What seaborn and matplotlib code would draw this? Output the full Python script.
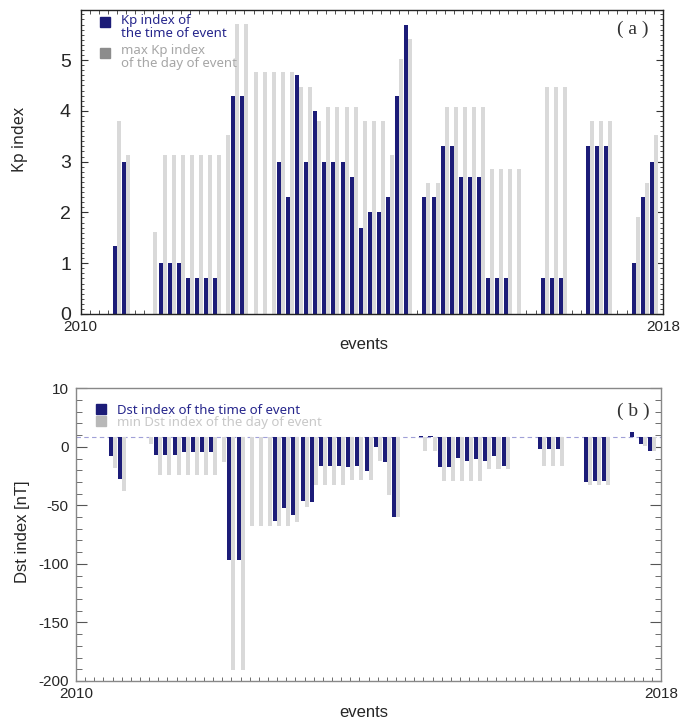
"""Kp and Dst index of the events, two stacked bar panels"""

import numpy as np
import pandas as pd
import seaborn as sns
import matplotlib.pyplot as plt
from matplotlib import font_manager
from matplotlib.ticker import MultipleLocator

# Event slots along the x axis (one slot per event bin)
slots = list(range(60))

# Kp index at the time of event / max Kp index of the day (None = no bar)
kp_event = [1.33, 3.0, None, None, None, 1.0, 1.0, 1.0, 0.7, 0.7,
            0.7, 0.7, None, 4.3, 4.3, None, None, None, 3.0, 2.3,
            4.7, 3.0, 4.0, 3.0, 3.0, 3.0, 2.7, 1.7, 2.0, 2.0,
            2.3, 4.3, 5.7, None, 2.3, 2.3, 3.3, 3.3, 2.7, 2.7,
            2.7, 0.7, 0.7, 0.7, None, None, None, 0.7, 0.7, 0.7,
            None, None, 3.3, 3.3, 3.3, None, None, 1.0, 2.3, 3.0]
kp_max = [3.8, 3.13, None, None, 1.62, 3.13, 3.13, 3.13, 3.13, 3.13,
          3.13, 3.13, 3.52, 5.71, 5.71, 4.76, 4.76, 4.76, 4.76, 4.76,
          4.47, 4.47, 3.8, 4.08, 4.08, 4.08, 4.08, 3.8, 3.8, 3.8,
          3.13, 5.03, 5.41, None, 2.57, 2.57, 4.08, 4.08, 4.08, 4.08,
          4.08, 2.85, 2.85, 2.85, 2.85, None, None, 4.47, 4.47, 4.47,
          None, None, 3.8, 3.8, 3.8, None, None, 1.9, 2.57, 3.52]

# Dst index at the time of event / min Dst index of the day
dst_event = [-8.0, -27.4, None, None, None, -6.6, -6.6, -6.6, -4.6, -4.6,
             -4.6, -4.6, None, -96.3, -96.3, None, None, None, -63.0, -52.5,
             -58.4, -46.5, -47.3, -16.0, -16.0, -16.0, -17.1, -16.0, -20.8, -0.3,
             -12.8, -59.8, None, None, 9.5, 9.5, -17.1, -17.1, -9.7, -11.7,
             -10.6, -11.7, -7.7, -16.0, None, None, None, -1.7, -1.7, -1.7,
             None, None, -30.2, -29.4, -29.4, None, None, 12.5, 2.8, -3.2]
dst_min = [-18.0, -38.0, None, None, 2.8, -23.7, -23.7, -23.7, -23.7, -23.7,
           -23.7, -23.7, -13.0, -190.3, -190.3, -67.8, -67.8, -67.8, -67.8, -67.8,
           -64.0, -51.3, -32.8, -32.8, -32.8, -32.8, -28.5, -28.5, -28.5, -12.5,
           -41.4, -59.8, None, None, -3.7, -3.7, -29.4, -29.4, -29.4, -29.4,
           -29.4, -19.1, -19.1, -19.1, None, None, None, -16.0, -16.0, -16.0,
           None, None, -32.2, -32.8, -32.8, None, None, None, 0.5, -3.2]
dst_base = 8.5  # bars hang from the dashed reference line

dst_ticks = [50, 0, -50, -100, -150, -200]
dst_ticklabels = ["10", "0", "-50", "-100", "-150", "-200"]

navy = "#1c1c78"
grey = "#d9d9d9"

sns.set_style("ticks")
plt.rcParams["font.family"] = ["Liberation Sans", "DejaVu Sans"]
names = {f.name for f in font_manager.fontManager.ttflist}
narrow = "Liberation Sans Narrow" if "Liberation Sans Narrow" in names else "Liberation Sans"


def long_table(a, b):
    df = pd.DataFrame({"slot": slots, "event": a, "day": b})
    df = df.melt(id_vars="slot", var_name="series", value_name="value")
    return df.dropna()


df_kp = long_table(kp_event, kp_max)
df_dst = long_table(dst_event, dst_min)
df_dst["height"] = df_dst["value"] - dst_base

fig = plt.figure(figsize=(6.95, 7.27), dpi=100)
ax1 = fig.add_axes([0.1161, 0.5681, 0.8378, 0.4181])
ax2 = fig.add_axes([0.1094, 0.0633, 0.8417, 0.4026])

# ---- (a) Kp index
sns.barplot(data=df_kp, x="slot", y="value", hue="series",
            hue_order=["event", "day"], palette={"event": navy, "day": grey},
            native_scale=True, width=0.88, errorbar=None, saturation=1,
            linewidth=0, legend=False, ax=ax1)
ax1.set_xlim(-4, 60)
ax1.set_ylim(0, 5.985)
ax1.set_axisbelow(True)
ax1.set_xticks([-4, 60], ["2010", "2018"])
ax1.xaxis.set_minor_locator(MultipleLocator(1))
ax1.tick_params(axis="x", which="major", length=0, pad=4, labelsize=11)
ax1.tick_params(axis="x", which="minor", direction="in", length=3,
                top=True, bottom=True, color="#333333")
ax1.set_yticks(range(6))
ax1.yaxis.set_minor_locator(MultipleLocator(0.1))
ax1.tick_params(axis="y", which="major", direction="in", length=5,
                left=True, right=True, pad=7, labelsize=14, color="#333333")
ax1.tick_params(axis="y", which="minor", direction="in", length=2.5,
                left=True, right=True, color="#333333")
for lab in ax1.get_yticklabels():
    lab.set_fontfamily(narrow)
for sp in ax1.spines.values():
    sp.set_color("#222222")
    sp.set_linewidth(1.0)
ax1.set_xlabel("events", fontsize=12)
ax1.xaxis.set_label_coords(0.4865, -0.076)
ax1.set_ylabel("Kp index", fontsize=11.5, family="Noto Sans")
ax1.yaxis.set_label_coords(-0.0905, 0.576)

ax1.plot([0.0417], [0.9605], marker="s", markersize=7.2, color=navy,
         transform=ax1.transAxes, clip_on=False, linestyle="none")
ax1.text(0.0692, 0.987, "Kp index of\nthe time of event", transform=ax1.transAxes,
         va="top", ha="left", color="#26268c", fontsize=9.5,
         family="Noto Sans", linespacing=1.0)
ax1.plot([0.0417], [0.8595], marker="s", markersize=7.2, color="#8c8c8c",
         transform=ax1.transAxes, clip_on=False, linestyle="none")
ax1.text(0.0692, 0.887, "max Kp index\nof the day of event", transform=ax1.transAxes,
         va="top", ha="left", color="#a6a6a6", fontsize=9.5,
         family="Noto Sans", linespacing=1.0)
ax1.text(0.9476, 0.9375, "( a )", transform=ax1.transAxes, ha="center",
         va="center", family="Liberation Serif", fontsize=14, color="#333333")

# ---- (b) Dst index
ax2.axhline(dst_base, color="#a0a0d8", linestyle=(0, (4, 3)), linewidth=0.8,
            zorder=0.8)
sns.barplot(data=df_dst, x="slot", y="height", hue="series",
            hue_order=["event", "day"], palette={"event": navy, "day": grey},
            native_scale=True, width=0.88, errorbar=None, saturation=1,
            linewidth=0, legend=False, bottom=dst_base, ax=ax2)
ax2.set_xlim(-4, 60)
ax2.set_ylim(-200, 50)
ax2.set_axisbelow(True)
ax2.set_xticks([-4, 60], ["2010", "2018"])
ax2.xaxis.set_minor_locator(MultipleLocator(1))
ax2.tick_params(axis="x", which="major", length=0, pad=4, labelsize=11)
ax2.tick_params(axis="x", which="minor", direction="in", length=3,
                bottom=True, top=False, color="#555555")
ax2.set_yticks(dst_ticks, dst_ticklabels)
ax2.yaxis.set_minor_locator(MultipleLocator(10))
ax2.tick_params(axis="y", which="major", direction="in", length=8,
                left=True, right=True, pad=5.5, labelsize=11, color="#555555")
ax2.tick_params(axis="y", which="minor", direction="in", length=4,
                left=True, right=True, color="#555555")
for sp in ax2.spines.values():
    sp.set_color("#888888")
    sp.set_linewidth(1.0)
ax2.set_xlabel("events", fontsize=12)
ax2.xaxis.set_label_coords(0.492, -0.082)
ax2.set_ylabel("Dst index [nT]", fontsize=12)
ax2.yaxis.set_label_coords(-0.0786, 0.509)

ax2.plot([0.0424], [0.9286], marker="s", markersize=7, color=navy,
         transform=ax2.transAxes, clip_on=False, linestyle="none")
ax2.text(0.0696, 0.9122, "Dst index of the time of event", transform=ax2.transAxes,
         va="baseline", ha="left", color="#26268c", fontsize=9.5, family="Noto Sans")
ax2.plot([0.0424], [0.889], marker="s", markersize=7, color="#b8b8b8",
         transform=ax2.transAxes, clip_on=False, linestyle="none")
ax2.text(0.0696, 0.8722, "min Dst index of the day of event", transform=ax2.transAxes,
         va="baseline", ha="left", color="#c8c8c8", fontsize=9.5, family="Noto Sans")
ax2.text(0.9527, 0.9224, "( b )", transform=ax2.transAxes, ha="center",
         va="center", family="Liberation Serif", fontsize=14, color="#333333")

plt.savefig("out.png", dpi=100)
